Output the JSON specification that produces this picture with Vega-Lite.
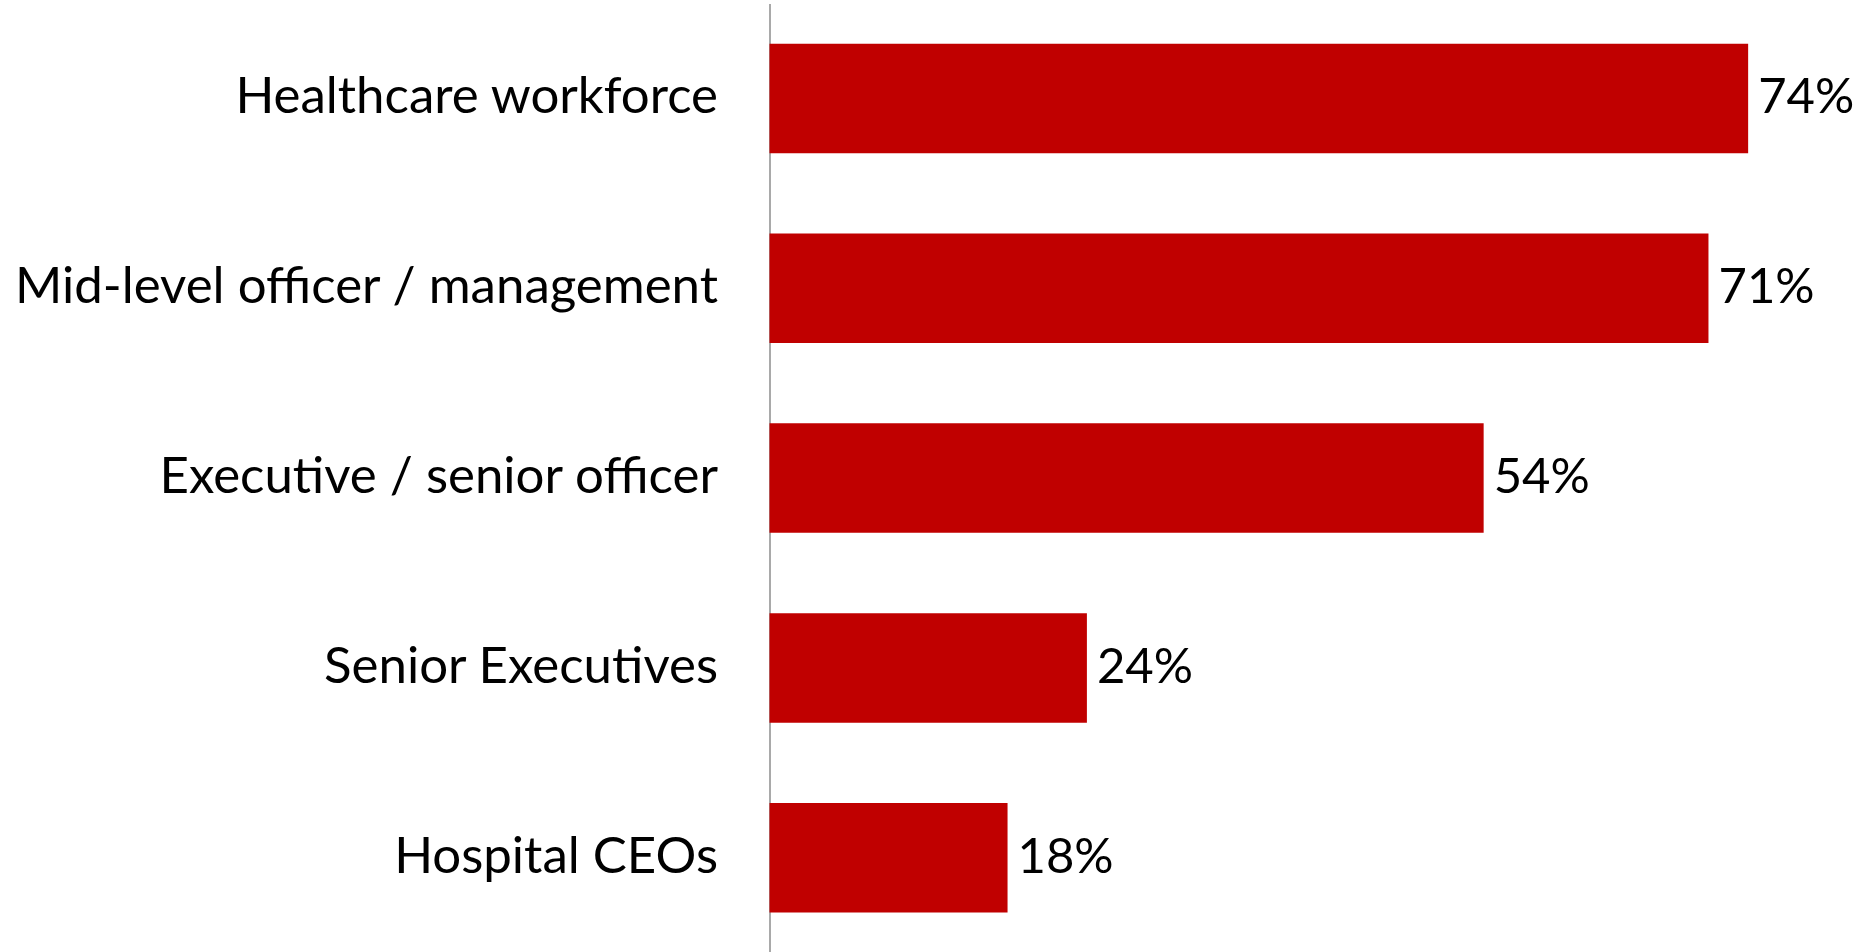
{
  "$schema": "https://vega.github.io/schema/vega-lite/v6.json",
  "autosize": {"type": "none"},
  "padding": {"left": 769.5, "top": 3.6, "right": 25.5, "bottom": 0},
  "width": 1058,
  "height": 949,
  "background": "white",
  "config": {"view": {"stroke": null}},
  "data": {
    "values": [
      {"group": "Healthcare workforce", "share": 0.74},
      {"group": "Mid-level officer / management", "share": 0.71},
      {"group": "Executive / senior officer", "share": 0.54},
      {"group": "Senior Executives", "share": 0.24},
      {"group": "Hospital CEOs", "share": 0.18}
    ]
  },
  "encoding": {
    "y": {
      "field": "group",
      "type": "nominal",
      "sort": null,
      "scale": {"paddingInner": 0.423, "paddingOuter": 0.2115},
      "axis": {
        "title": null,
        "domain": true,
        "domainColor": "#8c8c8c",
        "domainWidth": 1.5,
        "ticks": false,
        "labelPadding": 52,
        "labelFont": "Lato",
        "labelFontSize": 51,
        "labelColor": "#000000",
        "labelLimit": 0
      }
    },
    "x": {
      "field": "share",
      "type": "quantitative",
      "scale": {"domain": [0, 0.8]},
      "axis": null
    }
  },
  "layer": [
    {"mark": {"type": "bar", "color": "#C00000"}},
    {
      "mark": {"type": "text", "align": "left", "baseline": "middle", "dx": 10, "font": "Lato", "fontSize": 49, "color": "#000000"},
      "encoding": {"text": {"field": "share", "type": "quantitative", "format": ".0%"}}
    }
  ]
}
